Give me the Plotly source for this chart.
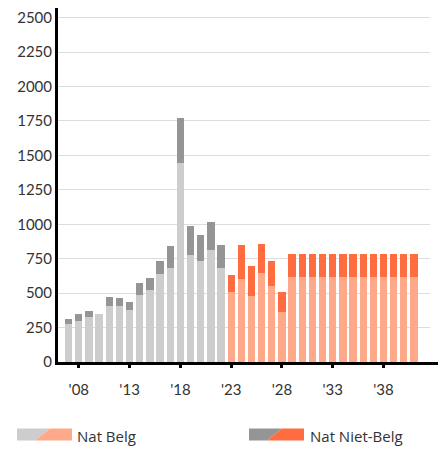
import plotly.graph_objects as go

years_hist = list(range(2007, 2023))
years_proj = list(range(2023, 2042))

belg_hist = [275, 300, 325, 350, 405, 405, 380, 485, 520, 640, 680, 1445, 780, 730, 815, 680]
nietbelg_hist = [40, 45, 45, 0, 65, 60, 55, 90, 90, 95, 165, 330, 205, 195, 200, 170]

belg_proj = [505, 605, 480, 645, 550, 365] + [620] * 13
nietbelg_proj = [130, 245, 215, 210, 185, 140] + [165] * 13

y_ticks = list(range(0, 2501, 250))
x_tickvals = [2008, 2013, 2018, 2023, 2028, 2033, 2038]
x_ticktext = ["'08", "'13", "'18", "'23", "'28", "'33", "'38"]

legend_labels = ["Nat Belg", "Nat Niet-Belg"]

C_GRAY_L = "#cdcdcd"
C_GRAY_D = "#959595"
C_OR_L = "#ffa98b"
C_OR_D = "#ff6c40"

# page has an 8px body margin; figure coords = page coords - 8
OFF = 8
W, H = 446, 449
L, R, T, B = 50, 24, 0, 94.5

fig = go.Figure()
fig.add_bar(x=years_hist, y=belg_hist, marker_color=C_GRAY_L, marker_line_width=0)
fig.add_bar(x=years_hist, y=nietbelg_hist, marker_color=C_GRAY_D, marker_line_width=0)
fig.add_bar(x=years_proj, y=belg_proj, marker_color=C_OR_L, marker_line_width=0)
fig.add_bar(x=years_proj, y=nietbelg_proj, marker_color=C_OR_D, marker_line_width=0)

pw = W - L - R
ph = H - T - B

def px(x):
    return (x - OFF - L) / pw

def py(y):
    return (H - B - (y - OFF)) / ph

def poly(pts):
    return "M " + " L ".join(f"{px(a)},{py(b)}" for a, b in pts) + " Z"

shapes = [
    dict(type="path", xref="paper", yref="paper", path=poly([(17, 429), (50, 429), (35, 441), (17, 441)]),
         fillcolor=C_GRAY_L, line_width=0),
    dict(type="path", xref="paper", yref="paper", path=poly([(50, 429), (72, 429), (72, 441), (35, 441)]),
         fillcolor=C_OR_L, line_width=0),
    dict(type="path", xref="paper", yref="paper", path=poly([(249, 429), (282, 429), (267, 441), (249, 441)]),
         fillcolor=C_GRAY_D, line_width=0),
    dict(type="path", xref="paper", yref="paper", path=poly([(282, 429), (304, 429), (304, 441), (267, 441)]),
         fillcolor=C_OR_D, line_width=0),
    dict(type="line", xref="paper", yref="paper", x0=0.98, x1=px(454), y0=-1.5 / ph, y1=-1.5 / ph,
         line=dict(color="black", width=3)),
]

annotations = [
    dict(xref="paper", yref="paper", x=px(75), y=py(437), text=legend_labels[0], showarrow=False,
         xanchor="left", yanchor="middle", font=dict(size=15, color="#333333", family="Open Sans")),
    dict(xref="paper", yref="paper", x=px(308), y=py(437), text=legend_labels[1], showarrow=False,
         xanchor="left", yanchor="middle", font=dict(size=15, color="#333333", family="Open Sans")),
]

fig.update_layout(
    width=W, height=H,
    margin=dict(l=L, r=R, t=T, b=B),
    barmode="stack", bargap=0.28,
    showlegend=False,
    plot_bgcolor="white", paper_bgcolor="white",
    font=dict(family="Lato", size=15, color="#333333"),
    shapes=shapes, annotations=annotations,
    xaxis=dict(range=[2005.95, 2042.58], tickvals=x_tickvals, ticktext=x_ticktext,
               showline=True, linecolor="black", linewidth=3,
               ticks="outside", ticklen=3, tickwidth=3, tickcolor="black",
               showgrid=False, zeroline=False, ticklabelstandoff=9,
               tickfont=dict(size=15, color="#333333")),
    yaxis=dict(range=[0, 2570], tickvals=y_ticks, showline=True, linecolor="black", linewidth=3,
               showgrid=True, gridcolor="#dddddd", gridwidth=1, zeroline=False,
               ticks="", ticklabelstandoff=0, ticklabeloverflow="allow",
               tickfont=dict(size=15, color="#333333")),
)

fig.write_html("out.html")
